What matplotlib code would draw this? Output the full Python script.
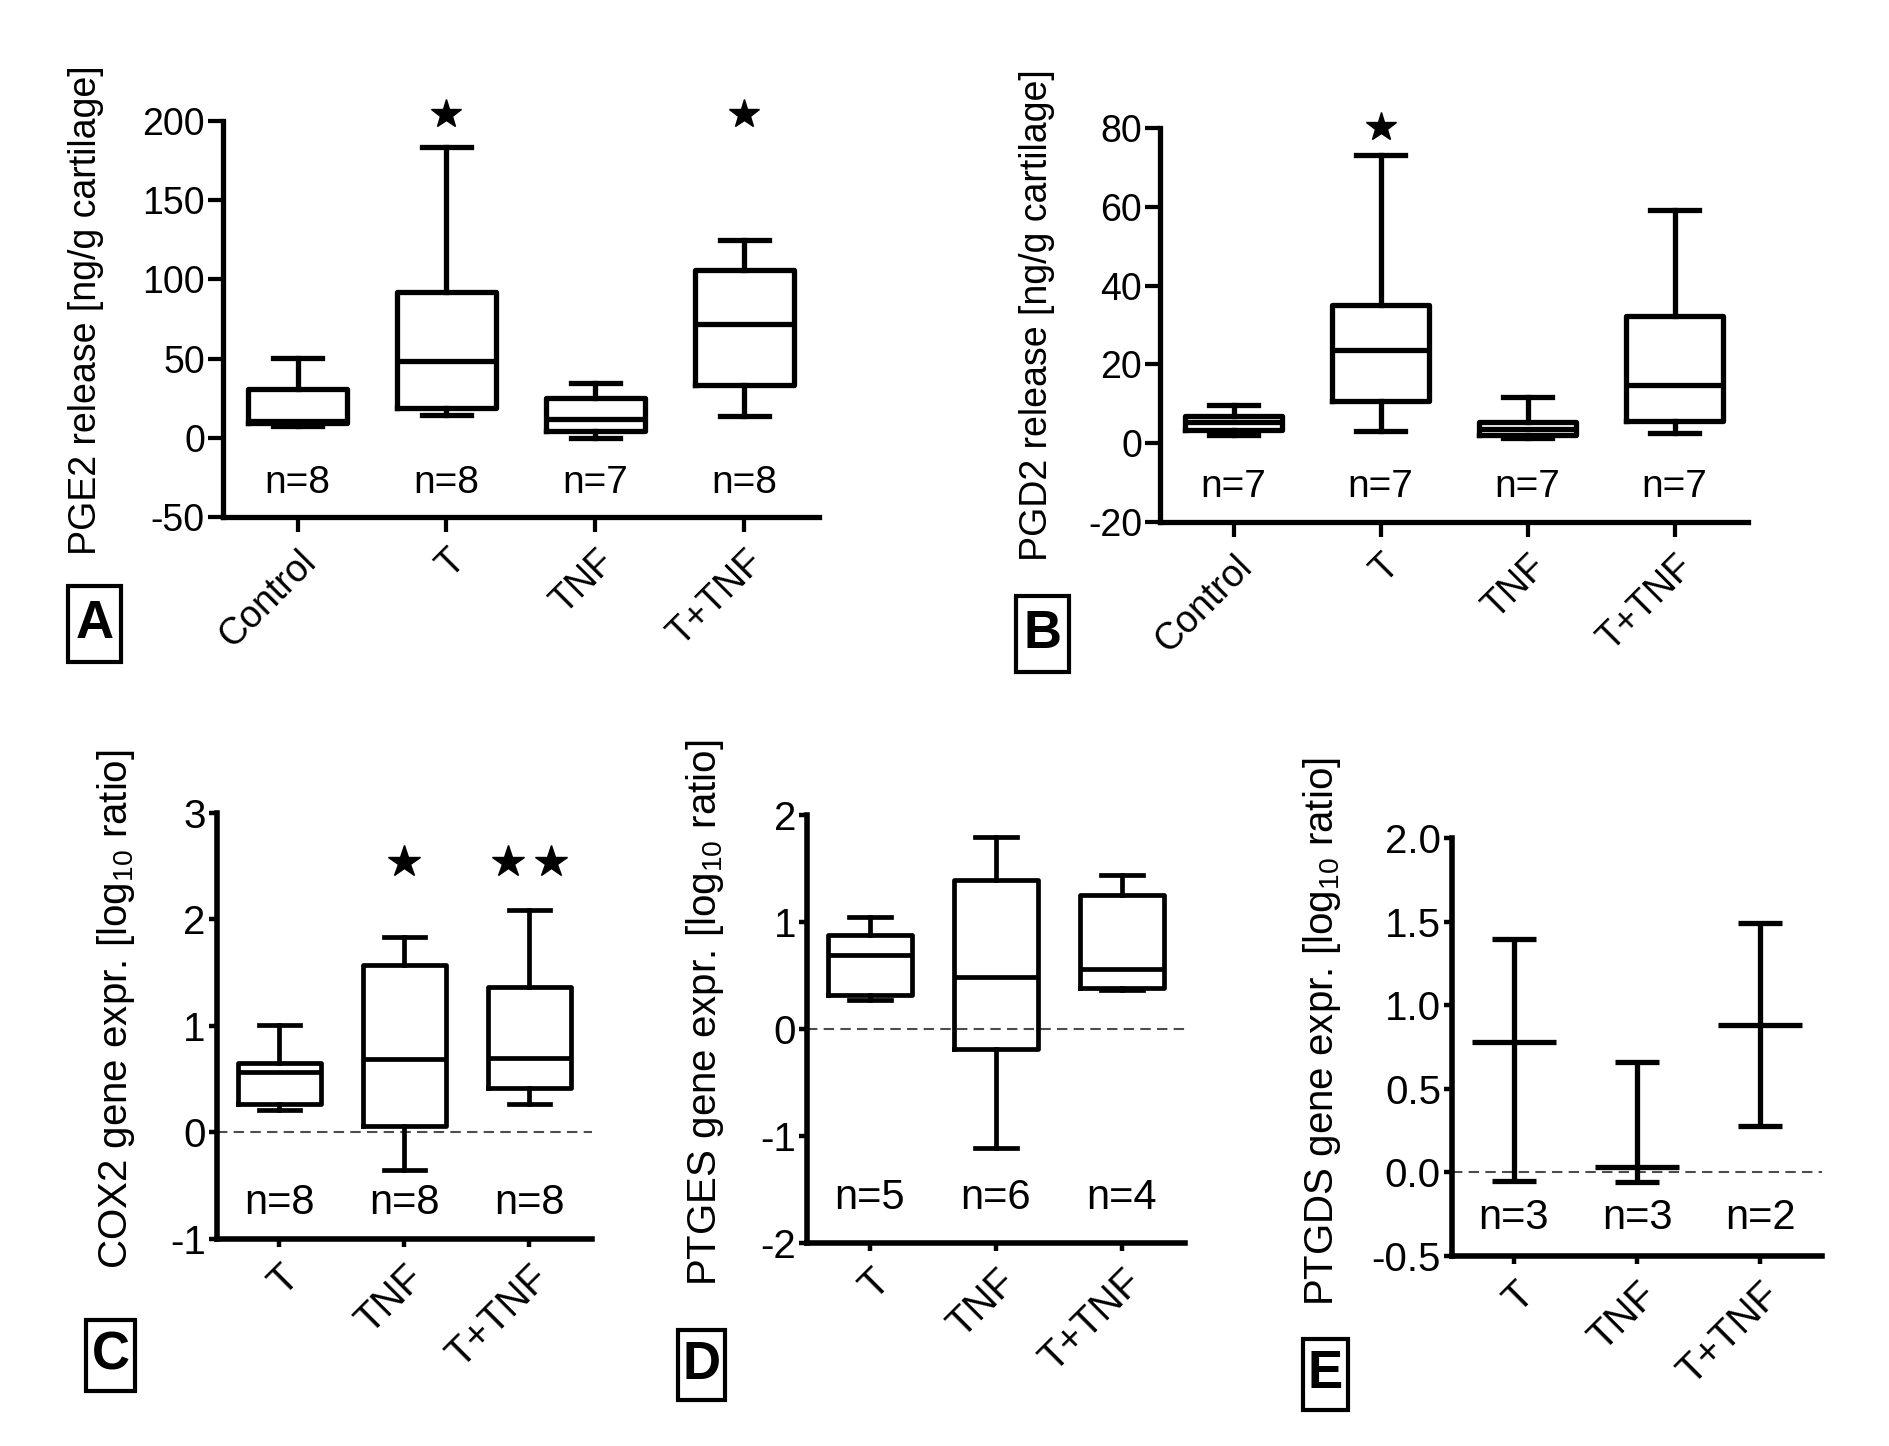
import matplotlib
matplotlib.use("Agg")
import matplotlib.pyplot as plt
from matplotlib.patches import Rectangle

plt.rcParams['font.family'] = ['Liberation Sans', 'DejaVu Sans']
plt.rcParams['mathtext.fontset'] = 'custom'
plt.rcParams['mathtext.rm'] = 'Liberation Sans'
plt.rcParams['mathtext.it'] = 'Liberation Sans:italic'
plt.rcParams['axes.unicode_minus'] = False

# ---- data ----
groups4 = ['Control', 'T', 'TNF', 'T+TNF']
groups3 = ['T', 'TNF', 'T+TNF']

# A: PGE2 release
pge2_lo = [7.5, 14.3, 0.0, 13.5]
pge2_q1 = [9.0, 19.0, 4.2, 33.0]
pge2_med = [10.5, 48.6, 12.0, 71.6]
pge2_q3 = [31.0, 92.0, 25.3, 105.6]
pge2_hi = [50.5, 183.4, 34.5, 125.0]
pge2_n = [8, 8, 7, 8]
pge2_stars = [0, 1, 0, 1]

# B: PGD2 release
pgd2_lo = [2.2, 3.1, 1.4, 2.7]
pgd2_q1 = [3.3, 10.7, 2.2, 5.6]
pgd2_med = [5.3, 23.7, 3.6, 14.8]
pgd2_q3 = [7.0, 35.1, 5.3, 32.4]
pgd2_hi = [9.6, 73.2, 11.6, 59.3]
pgd2_n = [7, 7, 7, 7]
pgd2_stars = [0, 1, 0, 0]

# C: COX2 expression
cox2_lo = [0.21, -0.355, 0.27]
cox2_q1 = [0.265, 0.065, 0.415]
cox2_med = [0.57, 0.685, 0.695]
cox2_q3 = [0.65, 1.57, 1.37]
cox2_hi = [1.01, 1.835, 2.09]
cox2_n = [8, 8, 8]
cox2_stars = [0, 1, 2]

# D: PTGES expression
ptges_lo = [0.27, -1.11, 0.36]
ptges_q1 = [0.32, -0.19, 0.386]
ptges_med = [0.688, 0.49, 0.56]
ptges_q3 = [0.88, 1.39, 1.25]
ptges_hi = [1.047, 1.79, 1.44]
ptges_n = [5, 6, 4]

# E: PTGDS expression (mean and range)
ptgds_mean = [0.78, 0.03, 0.884]
ptgds_lo = [-0.05, -0.056, 0.279]
ptgds_hi = [1.393, 0.663, 1.489]
ptgds_n = [3, 3, 2]


def stats(lo, q1, med, q3, hi):
    return [dict(whislo=a, q1=b, med=c, q3=d, whishi=e)
            for a, b, c, d, e in zip(lo, q1, med, q3, hi)]


def style_axes(ax, labels, ylim, yticks, fs, spine_lw, tick_len, fmt=None):
    ax.spines['top'].set_visible(False)
    ax.spines['right'].set_visible(False)
    for s in ('left', 'bottom'):
        ax.spines[s].set_linewidth(spine_lw)
    ax.set_xlim(-0.5, len(labels) - 0.5)
    ax.set_ylim(*ylim)
    ax.set_yticks(yticks)
    if fmt:
        ax.set_yticklabels([fmt % v for v in yticks])
    ax.set_xticks(range(len(labels)))
    ax.set_xticklabels(labels, rotation=45, ha='right', va='top',
                       rotation_mode='anchor')
    ax.tick_params(axis='both', direction='out', length=tick_len,
                   width=spine_lw * 0.8, labelsize=fs, pad=2)
    ax.tick_params(axis='x', pad=8)


def boxes(ax, st, lw):
    props = dict(color='black', linewidth=lw)
    ax.bxp(st, positions=range(len(st)), widths=0.66, capwidths=0.33,
           showfliers=False, boxprops=props, whiskerprops=props,
           capprops=props, medianprops=props, manage_ticks=False)


def n_labels(ax, ns, y, fs):
    for i, n in enumerate(ns):
        ax.text(i, y, 'n=%d' % n, ha='center', va='center', fontsize=fs)


def stars(ax, counts, y, ms):
    for i, c in enumerate(counts):
        if c == 1:
            ax.plot([i], [y], marker='*', color='black', ms=ms, clip_on=False)
        elif c == 2:
            ax.plot([i - 0.17, i + 0.17], [y, y], ls='none', marker='*',
                    color='black', ms=ms, clip_on=False)


def letter_box(fig, x0, y0, x1, y1, letter):
    W, H = 1890.0, 1446.0
    fig.patches.append(Rectangle((x0 / W, 1 - y1 / H), (x1 - x0) / W,
                                 (y1 - y0) / H, transform=fig.transFigure,
                                 fill=False, lw=3, ec='black'))
    fig.text((x0 + x1) / 2 / W, 1 - (y0 + y1) / 2 / H, letter,
             ha='center', va='center', fontsize=38, fontweight='bold')


fig = plt.figure(figsize=(18.9, 14.46), dpi=100)

TOP_FS, TOP_N = 27, 28
BOT_FS, BOT_N = 29, 30

# ---- A ----
axA = fig.add_axes([0.1180, 0.6425, 0.3153, 0.2739])
boxes(axA, stats(pge2_lo, pge2_q1, pge2_med, pge2_q3, pge2_hi), 3.8)
style_axes(axA, groups4, (-50, 200), [-50, 0, 50, 100, 150, 200], TOP_FS, 3.8, 11)
n_labels(axA, pge2_n, -28.6, TOP_N)
stars(axA, pge2_stars, 204.5, 22)
axA.set_ylabel('PGE2 release [ng/g cartilage]', fontsize=TOP_FS, va='center')
axA.yaxis.set_label_coords(-0.230, 0.523)

# ---- B ----
axB = fig.add_axes([0.6138, 0.6390, 0.3111, 0.2725])
boxes(axB, stats(pgd2_lo, pgd2_q1, pgd2_med, pgd2_q3, pgd2_hi), 3.8)
style_axes(axB, groups4, (-20, 80), [-20, 0, 20, 40, 60, 80], TOP_FS, 3.8, 11)
n_labels(axB, pgd2_n, -11, TOP_N)
stars(axB, pgd2_stars, 80.3, 22)
axB.set_ylabel('PGD2 release [ng/g cartilage]', fontsize=TOP_FS, va='center')
axB.yaxis.set_label_coords(-0.209, 0.525)

# ---- C ----
axC = fig.add_axes([0.1148, 0.1432, 0.1984, 0.2946])
axC.axhline(0, color='0.3', lw=1.5, ls=(0, (5, 3)), zorder=1)
boxes(axC, stats(cox2_lo, cox2_q1, cox2_med, cox2_q3, cox2_hi), 3.4)
style_axes(axC, groups3, (-1, 3), [-1, 0, 1, 2, 3], BOT_FS, 4.0, 6)
n_labels(axC, cox2_n, -0.66, BOT_N)
stars(axC, cox2_stars, 2.54, 24)
axC.set_ylabel(r'COX2 gene expr. [log$_{10}$ ratio]', fontsize=BOT_FS, va='center')
axC.yaxis.set_label_coords(-0.269, 0.540)

# ---- D ----
axD = fig.add_axes([0.4270, 0.1404, 0.2000, 0.2960])
axD.axhline(0, color='0.3', lw=1.5, ls=(0, (5, 3)), zorder=1)
boxes(axD, stats(ptges_lo, ptges_q1, ptges_med, ptges_q3, ptges_hi), 3.4)
style_axes(axD, groups3, (-2, 2), [-2, -1, 0, 1, 2], BOT_FS, 4.0, 6)
n_labels(axD, ptges_n, -1.58, BOT_N)
axD.set_ylabel(r'PTGES gene expr. [log$_{10}$ ratio]', fontsize=BOT_FS, va='center')
axD.yaxis.set_label_coords(-0.270, 0.537)

# ---- E ----
axE = fig.add_axes([0.7683, 0.1314, 0.1958, 0.2891])
axE.axhline(0, color='0.3', lw=1.5, ls=(0, (5, 3)), zorder=1)
lo_err = [m - l for m, l in zip(ptgds_mean, ptgds_lo)]
hi_err = [h - m for m, h in zip(ptgds_mean, ptgds_hi)]
axE.errorbar(range(3), ptgds_mean, yerr=[lo_err, hi_err], fmt='_',
             color='black', ms=61, mew=3.8, elinewidth=3.8, capsize=15.5,
             capthick=3.8)
style_axes(axE, groups3, (-0.5, 2.0), [-0.5, 0.0, 0.5, 1.0, 1.5, 2.0], BOT_FS,
           4.0, 6, fmt='%.1f')
n_labels(axE, ptgds_n, -0.275, BOT_N)
axE.set_ylabel(r'PTGDS gene expr. [log$_{10}$ ratio]', fontsize=BOT_FS, va='center')
axE.yaxis.set_label_coords(-0.351, 0.536)

# ---- panel letters ----
letter_box(fig, 68, 586, 121, 662, 'A')
letter_box(fig, 1016, 596, 1069, 672, 'B')
letter_box(fig, 86, 1320, 135, 1391, 'C')
letter_box(fig, 678, 1330, 725, 1400, 'D')
letter_box(fig, 1303, 1339, 1348, 1410, 'E')

fig.savefig('out.png', dpi=100)
